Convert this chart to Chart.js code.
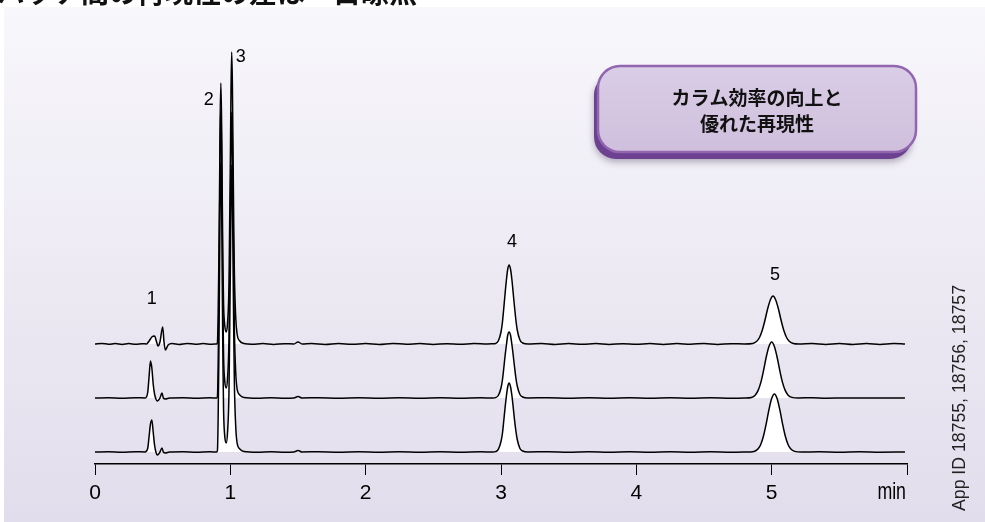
<!DOCTYPE html>
<html>
<head>
<meta charset="utf-8">
<title>カラム効率の向上と優れた再現性</title>
<script src="https://cdn.jsdelivr.net/npm/chart.js@4.4.1/dist/chart.umd.min.js"></script>
<style>
  html, body { margin: 0; padding: 0; background: #ffffff; }
  #wrap { width: 985px; height: 522px; position: relative; }
</style>
</head>
<body>
<div id="wrap"><canvas id="chrom" width="985" height="522"></canvas></div>
<script>
// ---- Chromatogram data: [retention time (min), detector signal] ----
// Three runs (App ID 18755, 18756, 18757), upper to lower trace.
const run1 = [
  [0.00, 0], [0.05, 0.6], [0.10, -0.3], [0.15, 0.5], [0.20, -0.4], [0.25, 0.4], [0.30, -0.2], [0.35, 0.3],
  [0.38, 0], [0.40, 3], [0.42, 7], [0.44, 8], [0.455, 2], [0.465, -2], [0.48, 2], [0.50, 17], [0.51, 2],
  [0.52, -6], [0.54, -1], [0.57, 0.5], [0.62, -0.4], [0.68, 0.6], [0.74, -0.3], [0.80, 0.4], [0.86, -0.2],
  [0.90, 0], [0.905, 2], [0.91, 30], [0.915, 80], [0.92, 150], [0.925, 226], [0.93, 261], [0.935, 226],
  [0.94, 152], [0.945, 82], [0.95, 40], [0.96, 17], [0.97, 12], [0.98, 22], [0.99, 60], [0.995, 120],
  [1.00, 182], [1.005, 255], [1.01, 292], [1.015, 262], [1.02, 192], [1.025, 122], [1.03, 70], [1.04, 26],
  [1.05, 10], [1.07, 3], [1.10, 0.5], [1.16, -0.3], [1.24, 0.5], [1.32, -0.4], [1.40, 0.3], [1.47, 0],
  [1.50, 2], [1.53, 0], [1.60, 0.4], [1.70, -0.5], [1.80, 0.5], [1.90, -0.3], [2.00, 0.4], [2.10, -0.4],
  [2.20, 0.6], [2.30, -0.2], [2.40, 0.4], [2.50, -0.5], [2.60, 0.3], [2.70, -0.3], [2.80, 0.5], [2.90, 0],
  [2.94, 0.2], [2.96, 0.5], [2.98, 3], [3.00, 12], [3.01, 21], [3.02, 35], [3.03, 50], [3.04, 64],
  [3.05, 75], [3.06, 79], [3.07, 75], [3.08, 65], [3.09, 51], [3.10, 37], [3.11, 24], [3.12, 14],
  [3.14, 4], [3.16, 1], [3.20, 0], [3.30, 0.6], [3.40, -0.4], [3.50, 0.5], [3.60, -0.3], [3.70, 0.4],
  [3.80, -0.5], [3.90, 0.3], [4.00, -0.3], [4.10, 0.5], [4.20, -0.4], [4.30, 0.4], [4.40, -0.2],
  [4.50, 0.5], [4.60, -0.4], [4.70, 0.3], [4.80, 0], [4.86, 0.5], [4.89, 2.7], [4.91, 6.5], [4.93, 13.4],
  [4.95, 23.5], [4.97, 35], [4.99, 44], [5.01, 48], [5.03, 44], [5.05, 35], [5.07, 23.5], [5.09, 13.4],
  [5.11, 6.5], [5.13, 2.7], [5.16, 0.5], [5.20, 0], [5.30, 0.5], [5.40, -0.4], [5.50, 0.5], [5.60, -0.5],
  [5.70, 0.4], [5.80, -0.4], [5.90, 0.5], [5.985, 0]
];
const run2 = [
  [0.00, 0], [0.10, 0.3], [0.20, -0.2], [0.30, 0.3], [0.37, 0], [0.38, 1], [0.39, 6], [0.40, 22],
  [0.41, 37], [0.42, 30], [0.43, 14], [0.44, 4], [0.45, -1], [0.46, -3], [0.47, -2], [0.48, 0],
  [0.495, 5], [0.505, 0], [0.52, -1], [0.55, 0], [0.65, 0.3], [0.75, -0.3], [0.85, 0.2],
  [0.90, 0], [0.905, 2], [0.91, 34], [0.915, 90], [0.92, 170], [0.925, 255], [0.93, 293], [0.935, 255],
  [0.94, 172], [0.945, 92], [0.95, 42], [0.96, 15], [0.97, 10], [0.98, 21], [0.99, 59], [0.995, 118],
  [1.00, 178], [1.005, 250], [1.01, 286], [1.015, 257], [1.02, 188], [1.025, 120], [1.03, 68], [1.04, 25],
  [1.05, 9], [1.07, 3], [1.10, 0.5], [1.20, -0.3], [1.30, 0.3], [1.40, -0.2], [1.47, 0], [1.50, 1.5],
  [1.53, 0], [1.65, 0.3], [1.80, -0.3], [1.95, 0.3], [2.10, -0.2], [2.25, 0.3], [2.40, -0.3],
  [2.55, 0.2], [2.70, -0.2], [2.85, 0.2], [2.94, 0], [2.96, 0.4], [2.98, 2.5], [3.00, 10], [3.01, 17.5],
  [3.02, 29], [3.03, 42], [3.04, 53], [3.05, 63], [3.06, 66], [3.07, 63], [3.08, 54], [3.09, 43],
  [3.10, 31], [3.11, 20], [3.12, 12], [3.14, 3.5], [3.16, 1], [3.20, 0], [3.35, 0.3], [3.50, -0.3],
  [3.65, 0.2], [3.80, -0.2], [3.95, 0.3], [4.10, -0.3], [4.25, 0.2], [4.40, -0.2], [4.55, 0.3],
  [4.70, -0.2], [4.80, 0], [4.85, 0.6], [4.88, 3.1], [4.90, 7.6], [4.92, 15.6], [4.94, 27.5], [4.96, 41],
  [4.98, 51.5], [5.00, 56], [5.02, 51.5], [5.04, 41], [5.06, 27.5], [5.08, 15.6], [5.10, 7.6],
  [5.12, 3.1], [5.15, 0.6], [5.20, 0], [5.30, 0.3], [5.40, -0.2], [5.55, 0.1], [5.70, -0.1],
  [5.85, 0.1], [5.985, 0]
];
const run3 = [
  [0.00, 0], [0.10, 0.3], [0.20, -0.2], [0.30, 0.3], [0.37, 0], [0.38, 1], [0.39, 4], [0.40, 16],
  [0.41, 28], [0.42, 32], [0.43, 20], [0.44, 7], [0.45, 0], [0.46, -3], [0.47, -2], [0.48, 0],
  [0.495, 4], [0.505, 0], [0.52, -1], [0.55, 0], [0.65, 0.3], [0.75, -0.3], [0.85, 0.2],
  [0.90, 0], [0.905, 2], [0.91, 34], [0.915, 91], [0.92, 172], [0.925, 257], [0.93, 295], [0.935, 257],
  [0.94, 173], [0.945, 93], [0.95, 42], [0.96, 14], [0.97, 9], [0.98, 21], [0.99, 60], [0.995, 119],
  [1.00, 179], [1.005, 251], [1.01, 287], [1.015, 258], [1.02, 189], [1.025, 121], [1.03, 68], [1.04, 25],
  [1.05, 9], [1.07, 3], [1.10, 0.5], [1.20, -0.3], [1.30, 0.3], [1.40, -0.2], [1.47, 0], [1.50, 1.5],
  [1.53, 0], [1.65, 0.3], [1.80, -0.3], [1.95, 0.3], [2.10, -0.2], [2.25, 0.3], [2.40, -0.3],
  [2.55, 0.2], [2.70, -0.2], [2.85, 0.2], [2.94, 0], [2.96, 0.4], [2.98, 2.6], [3.00, 10.5], [3.01, 18],
  [3.02, 30.5], [3.03, 44], [3.04, 56], [3.05, 65.5], [3.06, 69], [3.07, 65.5], [3.08, 57], [3.09, 45],
  [3.10, 32], [3.11, 21], [3.12, 12.5], [3.14, 3.5], [3.16, 1], [3.20, 0], [3.35, 0.3], [3.50, -0.3],
  [3.65, 0.2], [3.80, -0.2], [3.95, 0.3], [4.10, -0.3], [4.25, 0.2], [4.40, -0.2], [4.55, 0.3],
  [4.70, -0.2], [4.80, 0], [4.87, 0.6], [4.90, 3.2], [4.92, 7.8], [4.94, 16.2], [4.96, 28.4], [4.98, 42.3],
  [5.00, 53.4], [5.02, 58], [5.04, 53.4], [5.06, 42.3], [5.08, 28.4], [5.10, 16.2], [5.12, 7.8],
  [5.14, 3.2], [5.17, 0.6], [5.22, 0], [5.35, 0.2], [5.50, -0.2], [5.65, 0.2], [5.80, -0.2], [5.985, 0]
];

// Vertical stacking of the three runs (signal units added to each trace)
const runOffsets = [120, 66, 12];

// Peak numbering and retention times
const peakNames = ['1', '2', '3', '4', '5'];
const peakTimes = [0.42, 0.93, 1.01, 3.06, 5.01];
const peakLabelHeights = [165, 364, 407, 222, 189]; // signal level each number is written at

// Axis ticks (minutes); the last one carries the unit
const tickValues = [0, 1, 2, 3, 4, 5, 6];
const tickLabels = ['0', '1', '2', '3', '4', '5', 'min'];

const titleText = 'バッチ間の再現性の差は一目瞭然';
const calloutLines = ['カラム効率の向上と', '優れた再現性'];
const sourceNote = 'App ID 18755, 18756, 18757';

// ---- helpers ----
function roundedPath(ctx, x, y, w, h, r) {
  ctx.beginPath();
  ctx.moveTo(x + r, y);
  ctx.lineTo(x + w - r, y);
  ctx.arcTo(x + w, y, x + w, y + r, r);
  ctx.lineTo(x + w, y + h - r);
  ctx.arcTo(x + w, y + h, x + w - r, y + h, r);
  ctx.lineTo(x + r, y + h);
  ctx.arcTo(x, y + h, x, y + h - r, r);
  ctx.lineTo(x, y + r);
  ctx.arcTo(x, y, x + r, y, r);
  ctx.closePath();
}

// Condensed text: the same face squeezed horizontally
function narrowText(ctx, text, x, y, squeeze, align) {
  ctx.save();
  ctx.translate(x, y);
  ctx.scale(squeeze, 1);
  ctx.textAlign = align;
  ctx.fillText(text, 0, 0);
  ctx.restore();
}

// Lavender panel and the headline behind everything
const backdrop = {
  id: 'backdrop',
  beforeDraw(chart) {
    const ctx = chart.ctx;
    const W = chart.width, H = chart.height;
    ctx.save();
    ctx.fillStyle = '#ffffff';
    ctx.fillRect(0, 0, W, H);
    const g = ctx.createLinearGradient(0, 8, 0, H);
    g.addColorStop(0, '#f8f7fb');
    g.addColorStop(1, '#e2ddec');
    ctx.fillStyle = g;
    ctx.fillRect(4, 7, W - 4, H - 7);
    ctx.fillStyle = '#111111';
    ctx.font = 'bold 28px "Noto Sans CJK JP", sans-serif';
    ctx.textAlign = 'left';
    ctx.textBaseline = 'alphabetic';
    ctx.fillText(titleText, -3, 3);
    ctx.restore();
  }
};

// Peak numbers, unit label, callout and the run IDs
const overlay = {
  id: 'overlay',
  afterDraw(chart) {
    const ctx = chart.ctx;
    const xs = chart.scales.x, ys = chart.scales.y;
    ctx.save();

    // peak numbers
    const nudges = [0, -12, 9, 3, 2];
    ctx.fillStyle = '#000';
    ctx.font = '18px "Liberation Sans", Arial, sans-serif';
    ctx.textAlign = 'center';
    ctx.textBaseline = 'middle';
    peakNames.forEach((n, i) => {
      ctx.fillText(n, xs.getPixelForValue(peakTimes[i]) + nudges[i], ys.getPixelForValue(peakLabelHeights[i]));
    });

    // unit at the end of the time axis, tucked left of the last tick
    ctx.font = '24px "Liberation Sans", Arial, sans-serif';
    narrowText(ctx, tickLabels[tickLabels.length - 1],
      xs.getPixelForValue(tickValues[tickValues.length - 1]) - 1, 492, 0.74, 'right');

    // callout box
    const bx = 598, by = 66, bw = 318, bh = 86, br = 22;
    ctx.save();
    ctx.shadowColor = 'rgba(50, 30, 70, 0.35)';
    ctx.shadowBlur = 7;
    ctx.shadowOffsetY = 3;
    roundedPath(ctx, bx - 4, by + 7, bw, bh, br);
    ctx.fillStyle = '#6c4290';
    ctx.fill();
    ctx.restore();

    roundedPath(ctx, bx, by, bw, bh, br);
    const bg = ctx.createLinearGradient(0, by, 0, by + bh);
    bg.addColorStop(0, '#dacde6');
    bg.addColorStop(1, '#cfbfdd');
    ctx.fillStyle = bg;
    ctx.fill();
    ctx.lineWidth = 2.5;
    ctx.strokeStyle = '#9265b0';
    ctx.stroke();

    ctx.fillStyle = '#111';
    ctx.font = 'bold 19px "Noto Sans CJK JP", sans-serif';
    ctx.textAlign = 'center';
    ctx.textBaseline = 'middle';
    ctx.fillText(calloutLines[0], bx + bw / 2, 98);
    ctx.fillText(calloutLines[1], bx + bw / 2, 124);

    // run IDs, vertical at the right edge
    ctx.translate(960, 398);
    ctx.rotate(-Math.PI / 2);
    ctx.fillStyle = '#222';
    ctx.font = '19px "Liberation Sans", Arial, sans-serif';
    narrowText(ctx, sourceNote, 0, 0, 0.93, 'center');
    ctx.restore();
  }
};

const runs = [run3, run2, run1];           // lower trace first so it is painted on top
const offsets = [runOffsets[2], runOffsets[1], runOffsets[0]];

const datasets = runs.map((run, i) => ({
  label: sourceNote.split(', ')[i] || '',
  data: run.map(([t, v]) => ({ x: t, y: v + offsets[i] })),
  borderColor: '#000000',
  borderWidth: 1.5,
  backgroundColor: '#ffffff',
  fill: { value: offsets[i] },
  pointRadius: 0,
  cubicInterpolationMode: 'monotone'
}));

new Chart(document.getElementById('chrom'), {
  type: 'line',
  data: { datasets },
  options: {
    responsive: false,
    animation: false,
    events: [],
    layout: { padding: { top: 40, left: 95, right: 78, bottom: 0 } },
    plugins: { legend: { display: false }, tooltip: { enabled: false } },
    scales: {
      x: {
        type: 'linear',
        min: 0,
        max: 6,
        afterFit(scale) { scale.height = 58; },
        afterBuildTicks(scale) { scale.ticks = tickValues.map(v => ({ value: v })); },
        ticks: {
          autoSkip: false,
          maxRotation: 0,
          padding: 6,
          color: '#000',
          font: { family: '"Liberation Sans", Arial, sans-serif', size: 21 },
          // the unit on the last tick is painted separately, nudged left
          callback: (v) => (v === tickValues[tickValues.length - 1] ? '' : tickLabels[tickValues.indexOf(v)])
        },
        grid: { drawOnChartArea: false, drawTicks: true, tickLength: 11, color: '#000', lineWidth: 1 },
        border: { display: true, color: '#000', width: 1.5 }
      },
      y: { display: false, min: 0, max: 424 }
    }
  },
  plugins: [backdrop, overlay]
});
</script>
</body>
</html>
